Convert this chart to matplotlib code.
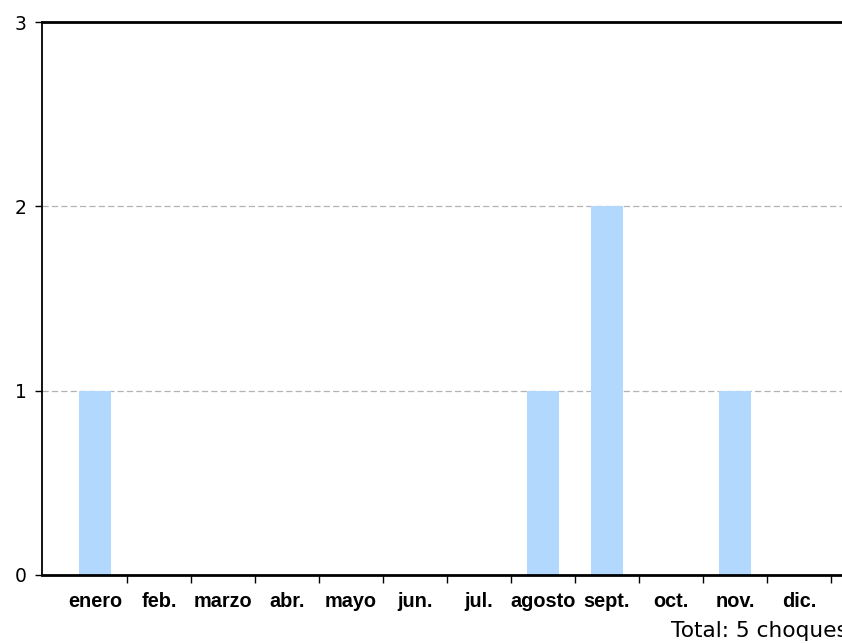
import matplotlib
matplotlib.use("Agg")
import matplotlib.pyplot as plt
import numpy as np

months = ["enero", "feb.", "marzo", "abr.", "mayo", "jun.", "jul.",
          "agosto", "sept.", "oct.", "nov.", "dic."]
counts = [1, 0, 0, 0, 0, 0, 0, 1, 2, 0, 1, 0]
yticks = [0, 1, 2, 3]
total_label = "Total: 5 choques"

fig = plt.figure(figsize=(8.42, 6.43), dpi=100)
ax = fig.add_axes([42/842, 68/643, (852-42)/842, 553/643])

x = np.arange(len(months))
ax.bar(x, counts, width=0.5, color="#b3d8fd", zorder=2)

ax.set_xlim(-0.83, 11.83)
ax.set_ylim(0, 3)
ax.set_yticks(yticks)
ax.set_yticklabels([str(v) for v in yticks], fontsize=13.5, family="DejaVu Sans")
ax.tick_params(axis="y", length=5, width=1, pad=6)

ax.set_xticks(x)
ax.set_xticklabels(months, fontsize=14.3, fontweight="bold",
                   family=["Liberation Sans Narrow", "Liberation Sans", "DejaVu Sans"])
ax.tick_params(axis="x", which="major", length=0, pad=12)
ax.set_xticks(np.arange(0.5, 12, 1), minor=True)
ax.tick_params(axis="x", which="minor", length=6, width=1)

for v in [1, 2]:
    ax.axhline(v, color="#b3b3b3", linestyle=(0, (5, 2.5)), linewidth=0.9, zorder=1)

ax.spines["right"].set_visible(False)
ax.spines["top"].set_linewidth(2)
ax.spines["bottom"].set_linewidth(2)
ax.spines["left"].set_linewidth(1.3)

fig.text(671/842, 1 - 637/643, total_label, fontsize=15.6, family="DejaVu Sans",
         ha="left", va="baseline")

fig.savefig("out.png", dpi=100)
